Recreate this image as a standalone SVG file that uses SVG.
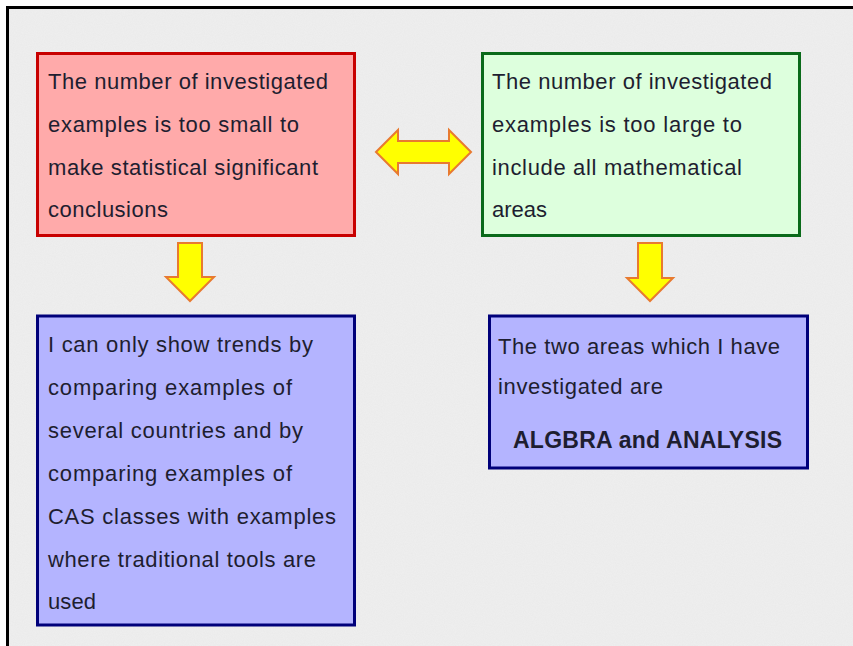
<svg xmlns="http://www.w3.org/2000/svg" width="853" height="646" viewBox="0 0 853 646">
<defs>
<filter id="noise" x="0" y="0" width="100%" height="100%">
<feTurbulence type="fractalNoise" baseFrequency="0.9" numOctaves="2" seed="3" result="t"/>
<feColorMatrix in="t" type="matrix" values="0 0 0 0 0.5  0 0 0 0 0.5  0 0 0 0 0.5  0 0 0 0.12 0" result="n"/>
<feComposite in="n" in2="SourceGraphic" operator="atop"/>
</filter>
</defs>
<style>
.t{font-family:"Liberation Sans",Arial,sans-serif;font-size:22px;fill:#1e1e30}
.b{font-weight:bold;font-size:23px}
.arrow{fill:#ffff00;stroke:#e87a30;stroke-width:2;stroke-linejoin:miter}
.red{fill:#ffaaaa;stroke:#c80000;stroke-width:3}
.green{fill:#ddffdd;stroke:#0a6a1a;stroke-width:3}
.blue{fill:#b4b4ff;stroke:#00007a;stroke-width:3}
</style>
<rect x="0" y="0" width="853" height="646" fill="#ffffff"/>
<rect x="8" y="8" width="845" height="638" fill="#efefef" filter="url(#noise)"/>
<path d="M7.5 646 V7.5 H853" fill="none" stroke="#000" stroke-width="3"/>
<g id="connectors">
<polygon class="arrow" points="376,152 398,130 398,141 449,141 449,130 471,152 449,174 449,163 398,163 398,174"/>
<polygon class="arrow" points="178,243 202,243 202,277 214,277 190,301 166,277 178,277"/>
<polygon class="arrow" points="638,243 662,243 662,278 673,278 650,301 627,278 638,278"/>
</g>
<g id="node-small">
<rect class="red" x="37.5" y="53.5" width="317" height="182"/>
<text class="t" x="48" y="89" textLength="280">The number of investigated</text>
<text class="t" x="48" y="132" textLength="251">examples is too small to</text>
<text class="t" x="48" y="175" textLength="270">make statistical significant</text>
<text class="t" x="48" y="217" textLength="120">conclusions</text>
</g>
<g id="node-large">
<rect class="green" x="482.5" y="53.5" width="317" height="182"/>
<text class="t" x="492" y="89" textLength="280">The number of investigated</text>
<text class="t" x="492" y="132" textLength="250">examples is too large to</text>
<text class="t" x="492" y="175" textLength="250">include all mathematical</text>
<text class="t" x="492" y="217" textLength="55">areas</text>
</g>
<g id="node-trends">
<rect class="blue" x="37.5" y="316" width="317" height="309"/>
<text class="t" x="48" y="352" textLength="265">I can only show trends by</text>
<text class="t" x="48" y="395" textLength="244">comparing examples of</text>
<text class="t" x="48" y="438" textLength="255">several countries and by</text>
<text class="t" x="48" y="481" textLength="244">comparing examples of</text>
<text class="t" x="48" y="524" textLength="288">CAS classes with examples</text>
<text class="t" x="48" y="567" textLength="268">where traditional tools are</text>
<text class="t" x="48" y="609" textLength="48">used</text>
</g>
<g id="node-areas">
<rect class="blue" x="489.5" y="316" width="318" height="152"/>
<text class="t" x="498" y="354" textLength="282">The two areas which I have</text>
<text class="t" x="498" y="394" textLength="165">investigated are</text>
<text class="t b" x="513" y="448" textLength="269">ALGBRA and ANALYSIS</text>
</g>
</svg>
